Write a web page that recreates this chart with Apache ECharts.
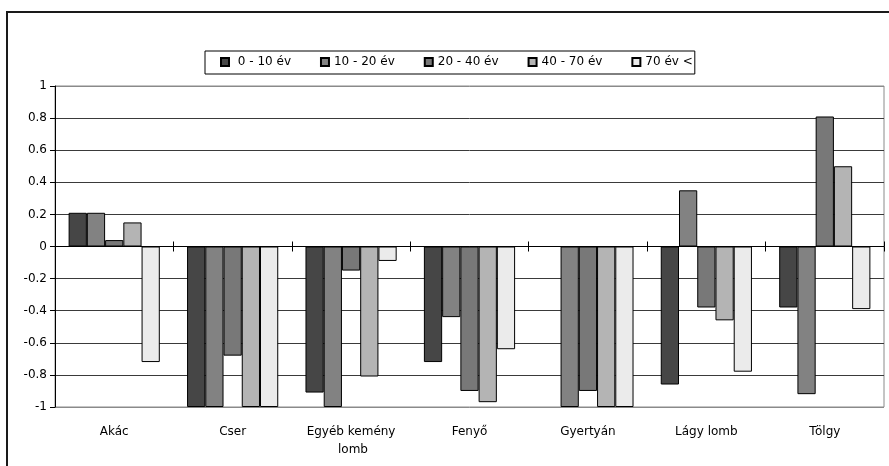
<!DOCTYPE html>
<html>
<head>
<meta charset="utf-8">
<script src="https://cdn.jsdelivr.net/npm/echarts@6/dist/echarts.min.js"></script>
<style>
  html, body { margin: 0; padding: 0; background: #fff; }
  #chart { width: 889px; height: 466px; }
</style>
</head>
<body>
<div id="chart"></div>
<script>
// Tree species groups along the category axis
const categories = ['Akác', 'Cser', 'Egyéb kemény lomb', 'Fenyő', 'Gyertyán', 'Lágy lomb', 'Tölgy'];

// Age classes (series names, shown in the legend)
const seriesNames = ['0 - 10 év', '10 - 20 év', '20 - 40 év', '40 - 70 év', '70 év <'];

// Values per age class, one entry per species (null = no bar)
const age0to10   = [0.21, -1.00, -0.91, -0.72, null, -0.86, -0.38];
const age10to20  = [0.21, -1.00, -1.00, -0.44, -1.00, 0.35, -0.92];
const age20to40  = [0.04, -0.68, -0.15, -0.90, -0.90, -0.38, 0.81];
const age40to70  = [0.15, -1.00, -0.81, -0.97, -1.00, -0.46, 0.50];
const age70plus  = [-0.72, -1.00, -0.09, -0.64, -1.00, -0.78, -0.39];

// Value axis ticks
const yMin = -1, yMax = 1, yStep = 0.2;

const seriesValues = [age0to10, age10to20, age20to40, age40to70, age70plus];
const fills = ['#464646', '#828282', '#787878', '#b4b4b4', '#ebebeb'];

const FONT = 'DejaVu Sans';
const gridBox = { left: 55, top: 86, width: 829, height: 321 };

// split line colours: outer lines grey (plot border), inner lines dark
const nLines = Math.round((yMax - yMin) / yStep) + 1;
const splitColors = [];
for (let i = 0; i < nLines; i++) splitColors.push(i === 0 || i === nLines - 1 ? '#8a8a8a' : '#3a3a3a');

const chart = echarts.init(document.getElementById('chart'), null, { renderer: 'canvas' });

chart.setOption({
  animation: false,
  backgroundColor: '#fff',
  textStyle: { fontFamily: FONT, color: '#000' },
  graphic: [{
    type: 'rect',
    shape: { x: 7, y: 12, width: 900, height: 500 },
    style: { fill: 'none', stroke: '#1a1a1a', lineWidth: 2 },
    silent: true,
    z: -10
  }],
  legend: {
    data: seriesNames,
    left: 205,
    top: 51,
    orient: 'horizontal',
    itemWidth: 8,
    itemHeight: 8,
    itemGap: 29,
    padding: [5, 2, 6, 15],
    borderColor: '#000',
    borderWidth: 1,
    icon: 'rect',
    formatter: function (n) { return n === seriesNames[0] ? ' ' + n : n; },
    textStyle: { fontFamily: FONT, fontSize: 12, color: '#000' }
  },
  grid: [
    Object.assign({ show: true, borderColor: '#8a8a8a', borderWidth: 1, backgroundColor: '#fff', containLabel: false }, gridBox),
    Object.assign({ show: false, containLabel: false }, gridBox)
  ],
  xAxis: [
    {
      // category labels along the bottom of the plot
      type: 'category', gridIndex: 0, data: categories, position: 'bottom',
      axisLine: { show: false, onZero: false },
      axisTick: { show: false },
      axisLabel: {
        fontFamily: FONT, fontSize: 12, color: '#000', margin: 16, lineHeight: 18,
        width: 100, overflow: 'break', interval: 0
      },
      splitLine: { show: false }
    },
    {
      // zero line with upward tick marks between categories
      type: 'category', gridIndex: 0, data: categories, position: 'top',
      axisLine: { show: true, onZero: true, lineStyle: { color: '#000', width: 1 } },
      axisTick: { show: true, length: 5, interval: 0, lineStyle: { color: '#000' } },
      axisLabel: { show: false },
      splitLine: { show: false }
    },
    {
      // downward half of the zero-line tick marks
      type: 'category', gridIndex: 1, data: categories, position: 'bottom',
      axisLine: { show: false, onZero: true },
      axisTick: { show: true, length: 5, interval: 0, lineStyle: { color: '#000' } },
      axisLabel: { show: false },
      splitLine: { show: false }
    }
  ],
  yAxis: [
    {
      type: 'value', gridIndex: 0, min: yMin, max: yMax, interval: yStep,
      axisLine: { show: true, lineStyle: { color: '#000', width: 1 } },
      axisTick: { show: true, length: 5, lineStyle: { color: '#000' } },
      axisLabel: {
        fontFamily: FONT, fontSize: 12, color: '#000', margin: 8,
        formatter: function (v) { return String(Math.round(v * 10) / 10); }
      },
      splitLine: { show: true, lineStyle: { color: splitColors, width: 1 } }
    },
    {
      type: 'value', gridIndex: 1, min: yMin, max: yMax, interval: yStep, show: false
    }
  ],
  series: seriesValues.map(function (vals, i) {
    return {
      name: seriesNames[i],
      type: 'bar',
      xAxisIndex: 0,
      yAxisIndex: 0,
      data: vals,
      barGap: '0%',
      barCategoryGap: '23%',
      itemStyle: { color: fills[i], borderColor: '#000', borderWidth: 1 },
      z: 3
    };
  })
});
</script>
</body>
</html>
